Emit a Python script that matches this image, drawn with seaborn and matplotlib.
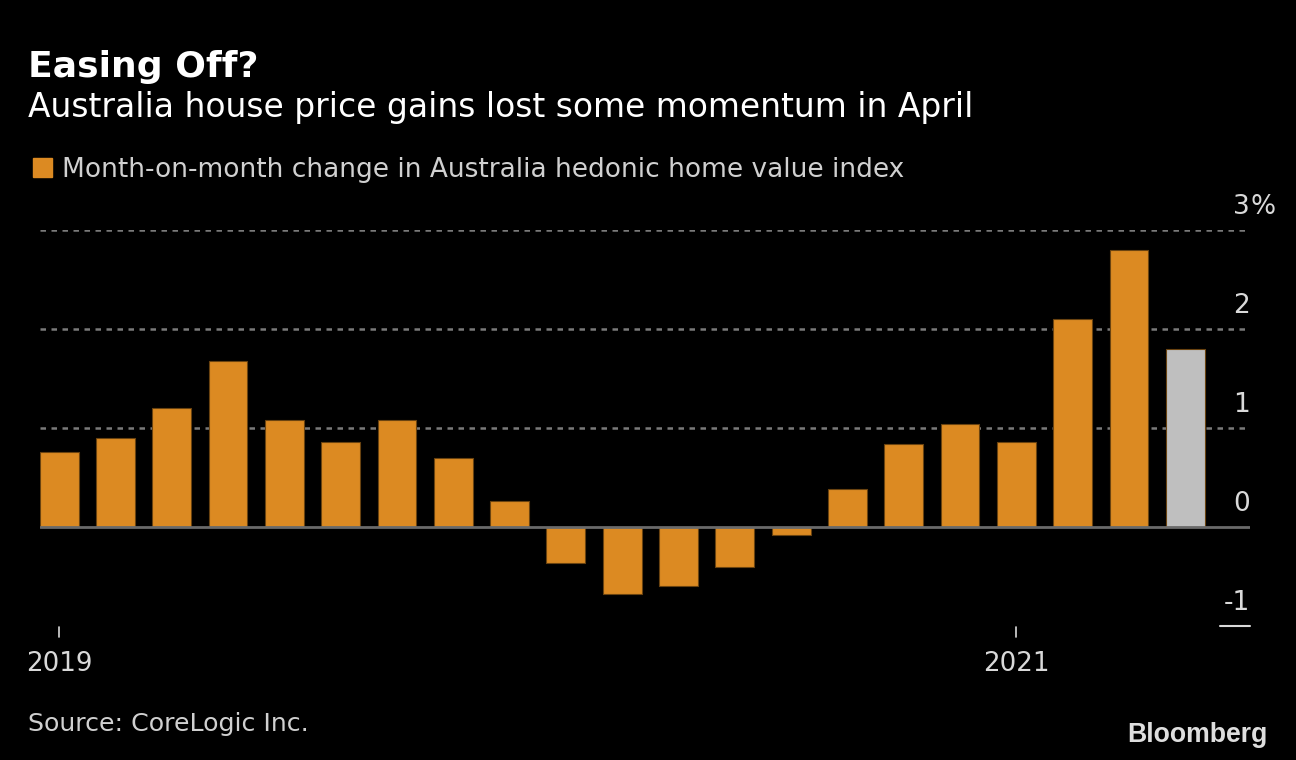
import matplotlib
matplotlib.use("Agg")
import matplotlib.pyplot as plt
import seaborn as sns
import pandas as pd

months = ["2019-08", "2019-09", "2019-10", "2019-11", "2019-12",
          "2020-01", "2020-02", "2020-03", "2020-04", "2020-05", "2020-06",
          "2020-07", "2020-08", "2020-09", "2020-10", "2020-11", "2020-12",
          "2021-01", "2021-02", "2021-03", "2021-04"]
values = [0.76, 0.90, 1.20, 1.68, 1.08, 0.86, 1.08, 0.70, 0.26, -0.36, -0.68,
          -0.60, -0.40, -0.08, 0.38, 0.84, 1.04, 0.86, 2.10, 2.80, 1.80]
bar_colors = ["#DC8A22"] * 20 + ["#BFBFBF"]
year_ticks = {"2019-08": "2019", "2021-01": "2021"}
y_ticks = [-1, 0, 1, 2, 3]
y_labels = ["-1", "0", "1", "2", "3"]

df = pd.DataFrame({"month": months, "value": values})

sns.set_theme(style="dark")
plt.rcParams['font.family'] = ['DejaVu Sans']

W, H = 1296, 760
fig = plt.figure(figsize=(W / 100, H / 100), dpi=100, facecolor="black")
ax = fig.add_axes([40 / W, 1 - 626 / H, (1250 - 40) / W, (626 - 230) / H])
ax.set_facecolor("black")

sns.barplot(data=df, x="month", y="value", hue="month", palette=bar_colors,
            legend=False, width=0.69, ax=ax, saturation=1,
            edgecolor="#6a4310", linewidth=0.8, zorder=3)

ax.set_ylim(-1, 3)
ax.set_xlim(-0.34, 21.15)
for s in ax.spines.values():
    s.set_visible(False)
ax.set_xticks([])
ax.set_yticks([])
ax.set_xlabel("")
ax.set_ylabel("")
ax.grid(False)

for v in [1, 2, 3]:
    ax.axhline(v, color="#7a7a7a", lw=1.8, ls=(0, (2.2, 2.2)), zorder=1)
ax.axhline(0, color="#6a6a6a", lw=2, zorder=4)

# y labels on the right, above the gridlines
tr = ax.get_yaxis_transform()
for v, lab in zip(y_ticks, y_labels):
    ax.text(1.0, v + 0.16, lab, transform=tr, ha="right", va="baseline",
            color="#d9d9d9", fontsize=19, clip_on=False)
ax.text(1.0, 3 + 0.16, "%", transform=tr, ha="left", va="baseline",
        color="#d9d9d9", fontsize=19, clip_on=False)
ax.plot([(1220 - 40) / (1250 - 40), 1.0], [-1, -1], transform=tr,
        color="#d9d9d9", lw=1.5, clip_on=False)

# x year ticks
for i, m in enumerate(months):
    if m in year_ticks:
        ax.plot([i, i], [-1.01, -1.11], color="#d9d9d9", lw=1.2, clip_on=False)
        ax.text(i, -1.25, year_ticks[m], ha="center", va="top",
                color="#d9d9d9", fontsize=18.8)

fig.text(28 / W, 1 - 77 / H, "Easing Off?", color="white", fontsize=26,
         fontweight="bold", ha="left", va="baseline")
fig.text(28 / W, 1 - 117 / H, "Australia house price gains lost some momentum in April",
         color="white", fontsize=23.7, ha="left", va="baseline")
fig.patches.append(plt.Rectangle((33 / W, 1 - 177 / H), 19 / W, 19 / H,
                                 transform=fig.transFigure, color="#DC8A22"))
fig.text(62 / W, 1 - 177 / H,
         "Month-on-month change in Australia hedonic home value index",
         color="#d0d0d0", fontsize=19, ha="left", va="baseline")
fig.text(28 / W, 1 - 731 / H, "Source: CoreLogic Inc.", color="#d0d0d0",
         fontsize=18.2, ha="left", va="baseline")
fig.text(1268 / W, 1 - 742 / H, "Bloomberg", color="#dedede", fontsize=19.2,
         fontweight="bold", ha="right", va="baseline", family="Liberation Sans")

fig.savefig("out.png", dpi=100, facecolor="black")
